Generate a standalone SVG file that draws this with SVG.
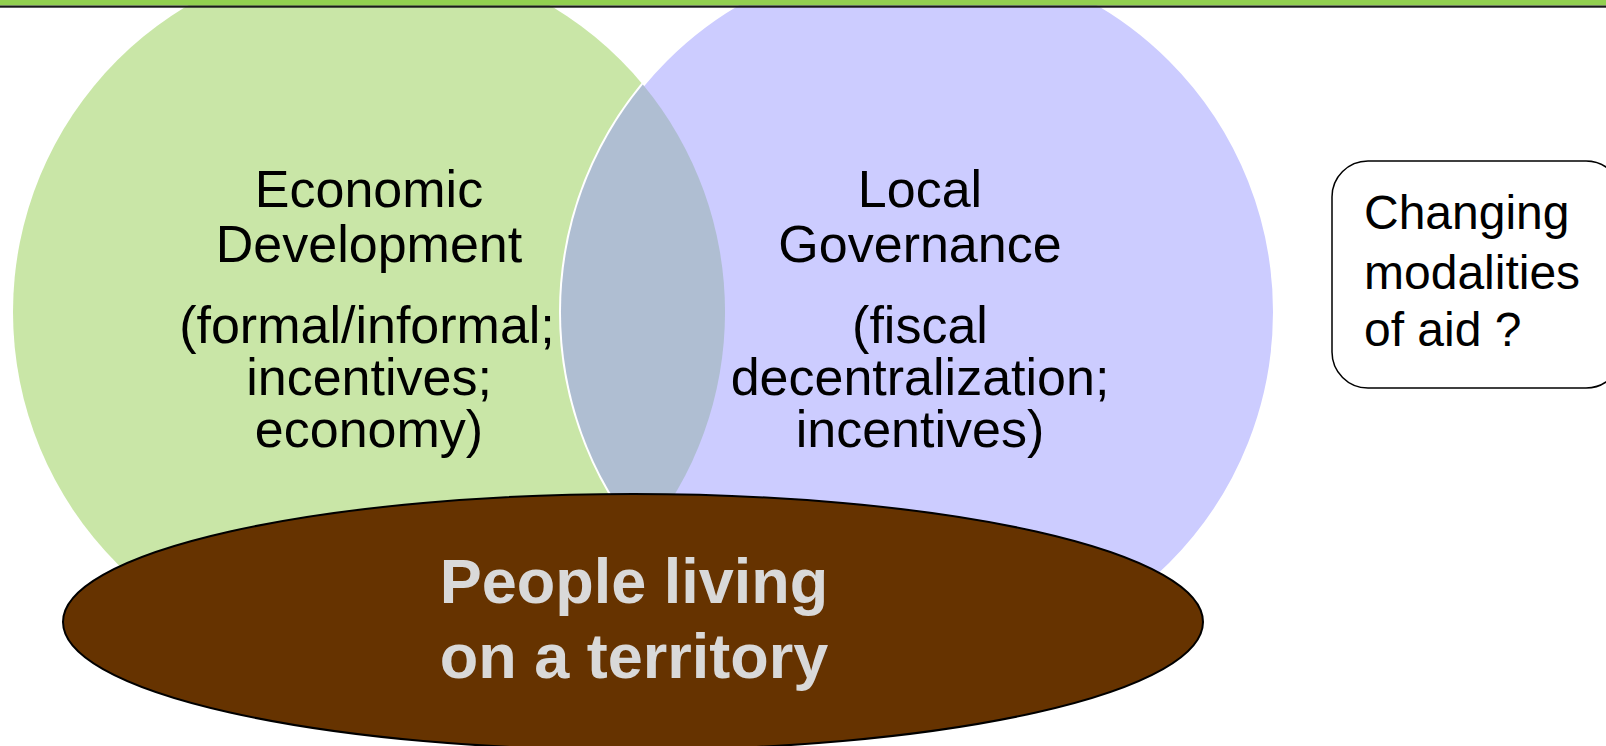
<svg xmlns="http://www.w3.org/2000/svg" width="1606" height="746" viewBox="0 0 1606 746">
<style>
.t{font-family:"Liberation Sans",Arial,sans-serif;font-size:52px;fill:#000;text-anchor:middle}
.b{font-family:"Liberation Sans",Arial,sans-serif;font-size:48px;fill:#000}
.p{font-family:"Liberation Sans",Arial,sans-serif;font-size:63px;font-weight:bold;fill:#D9D9D9;text-anchor:middle}
</style>
<rect x="0" y="0" width="1606" height="746" fill="#fff"/>
<g id="economic-development">
<circle cx="369" cy="312" r="356" fill="#C9E6A7"/>
</g>
<g id="local-governance">
<circle cx="918" cy="312" r="357" fill="#CCCCFF" stroke="#fff" stroke-width="4"/>
</g>
<g id="overlap">
<path d="M642.85 84.5 A356 356 0 0 1 642.85 539.5 A357 357 0 0 1 642.85 84.5 Z" fill="#AFBED2"/>
</g>
<g id="economic-development-label">
<text class="t" x="369" y="207">Economic</text>
<text class="t" x="369" y="262">Development</text>
<text class="t" x="367" y="343">(formal/informal;</text>
<text class="t" x="369" y="395">incentives;</text>
<text class="t" x="369" y="447">economy)</text>
</g>
<g id="local-governance-label">
<text class="t" x="920" y="207">Local</text>
<text class="t" x="920" y="262">Governance</text>
<text class="t" x="920" y="343">(fiscal</text>
<text class="t" x="920" y="395">decentralization;</text>
<text class="t" x="920" y="447">incentives)</text>
</g>
<g id="people">
<ellipse cx="633" cy="622" rx="570" ry="128" fill="#663300" stroke="#000" stroke-width="2"/>
<text class="p" x="634" y="603">People living</text>
<text class="p" x="634" y="678">on a territory</text>
</g>
<g id="aid-box">
<rect x="1332" y="161" width="290" height="227" rx="36" ry="36" fill="#fff" stroke="#000" stroke-width="1.5"/>
<text class="b" x="1364" y="229">Changing</text>
<text class="b" x="1364" y="289">modalities</text>
<text class="b" x="1364" y="346">of aid ?</text>
</g>
<g id="topbar">
<rect x="0" y="0" width="1606" height="5.5" fill="#92D050"/>
<rect x="0" y="5.5" width="1606" height="2.2" fill="#1a1a1a"/>
</g>
<g id="connectors"/>
</svg>
